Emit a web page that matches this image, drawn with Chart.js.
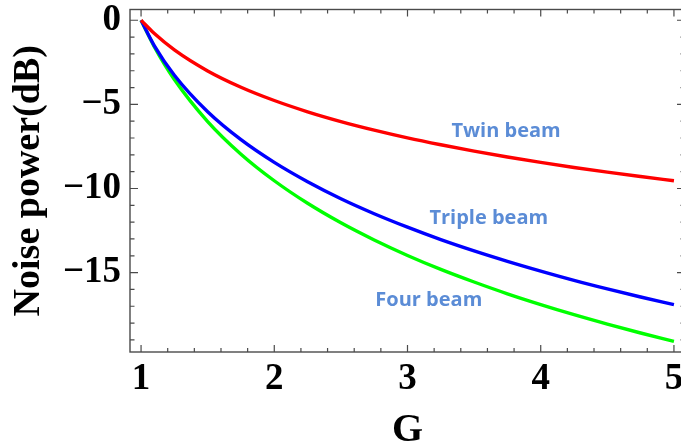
<!DOCTYPE html>
<html>
<head>
<meta charset="utf-8">
<script src="https://cdn.jsdelivr.net/npm/chart.js@4/dist/chart.umd.min.js"></script>
<style>
  html, body { margin: 0; padding: 0; background: #fff; overflow: hidden; width: 681px; height: 446px; }
  canvas { display: block; }
</style>
</head>
<body>
<canvas id="c" width="690" height="446"></canvas>
<script>
// ---- data ----
const gValues   = [1, 1.1, 1.25, 1.5, 1.75, 2, 2.25, 2.5, 2.75, 3, 3.25, 3.5, 3.75, 4, 4.25, 4.5, 4.75, 5];
const twinBeam  = [0, -0.79, -1.76, -3.01, -3.98, -4.77, -5.44, -6.02, -6.53, -6.99, -7.40, -7.78, -8.13, -8.45, -8.75, -9.03, -9.29, -9.54];
const tripleBeam= [0, -1.52, -3.27, -5.44, -7.10, -8.45, -9.60, -10.61, -11.50, -12.30, -13.04, -13.71, -14.33, -14.91, -15.46, -15.97, -16.45, -16.90];
const fourBeam  = [0, -1.58, -3.52, -6.02, -7.96, -9.54, -10.88, -12.04, -13.06, -13.98, -14.81, -15.56, -16.26, -16.90, -17.50, -18.06, -18.59, -19.09];
const xTickLabels = [1, 2, 3, 4, 5];
const yTickLabels = [0, -5, -10, -15];
const seriesNames = ['Twin beam', 'Triple beam', 'Four beam'];
// label anchor points (data coords) for the in-plot annotations
const labelG = [3.74, 3.61, 3.16];
const labelY = [-6.6, -11.75, -16.65];

const toPts = arr => gValues.map((g, i) => ({ x: g, y: arr[i] }));

const frameColor = '#4a4a4a';
const labelColor = '#5B8CD6';

const framePlugin = {
  id: 'frame',
  afterDatasetsDraw(chart) {
    const { ctx, chartArea: a, scales } = chart;
    const xs = scales.x, ys = scales.y;
    ctx.save();
    ctx.strokeStyle = frameColor;
    ctx.lineWidth = 1.4;
    ctx.strokeRect(a.left, a.top, a.right - a.left, a.bottom - a.top);
    ctx.lineWidth = 1.2;
    ctx.beginPath();
    for (let k = 5; k <= 25; k++) {
      const v = k / 5;
      const px = xs.getPixelForValue(v);
      const len = (k % 5 === 0) ? 7 : 4;
      ctx.moveTo(px, a.bottom); ctx.lineTo(px, a.bottom - len);
      ctx.moveTo(px, a.top); ctx.lineTo(px, a.top + len);
    }
    for (let v = 0; v >= -19; v--) {
      const py = ys.getPixelForValue(v);
      const len = (v % 5 === 0) ? 8 : 4.5;
      ctx.moveTo(a.left, py); ctx.lineTo(a.left + len, py);
      ctx.moveTo(a.right, py); ctx.lineTo(a.right - len, py);
    }
    ctx.stroke();
    ctx.fillStyle = labelColor;
    ctx.font = 'bold 20px "Open Sans"';
    ctx.textAlign = 'center';
    ctx.textBaseline = 'middle';
    seriesNames.forEach((n, i) => {
      ctx.fillText(n, xs.getPixelForValue(labelG[i]), ys.getPixelForValue(labelY[i]));
    });
    ctx.restore();
  }
};

const serif = '"Liberation Serif", "Times New Roman", serif';

new Chart(document.getElementById('c'), {
  type: 'line',
  data: {
    datasets: [
      { label: seriesNames[0], data: toPts(twinBeam),   borderColor: '#ff0000', borderWidth: 3.4 },
      { label: seriesNames[1], data: toPts(tripleBeam), borderColor: '#0000ff', borderWidth: 3.4 },
      { label: seriesNames[2], data: toPts(fourBeam),   borderColor: '#00ff00', borderWidth: 3.4 }
    ]
  },
  options: {
    responsive: false,
    animation: false,
    devicePixelRatio: 1,
    elements: { point: { radius: 0 }, line: { cubicInterpolationMode: 'monotone', fill: false } },
    layout: { padding: { left: 0, top: 9.5, right: 5, bottom: 0 } },
    plugins: { legend: { display: false }, tooltip: { enabled: false } },
    scales: {
      x: {
        type: 'linear',
        min: 0.917, max: 5.083,
        grid: { display: false, drawTicks: false },
        border: { display: false },
        afterBuildTicks: s => { s.ticks = xTickLabels.map(v => ({ value: v })); },
        afterFit: s => { s.height = 94; s.paddingLeft = 0; s.paddingRight = 0; },
        ticks: { color: '#000', padding: 9, maxRotation: 0, font: { family: serif, weight: 'bold', size: 37, lineHeight: 1 }, callback: v => String(v) },
        title: { display: true, text: 'G', color: '#000', font: { family: serif, weight: 'bold', size: 40, lineHeight: 1 }, padding: { top: -5, bottom: -5 } }
      },
      y: {
        type: 'linear',
        min: -19.72, max: 0.64,
        grid: { display: false, drawTicks: false },
        border: { display: false },
        afterBuildTicks: s => { s.ticks = yTickLabels.map(v => ({ value: v })); },
        afterFit: s => { s.width = 130; s.paddingTop = 0; s.paddingBottom = 0; },
        ticks: { color: '#000', padding: 9, font: { family: serif, weight: 'bold', size: 37, lineHeight: 1 }, callback: v => (v < 0 ? '\u2212' + Math.abs(v) : String(v)) },
        title: { display: true, text: 'Noise power(dB)', color: '#000', font: { family: serif, weight: 'bold', size: 38, lineHeight: 1 }, padding: { top: 10, bottom: 0 } }
      }
    }
  },
  plugins: [framePlugin]
});
</script>
</body>
</html>
